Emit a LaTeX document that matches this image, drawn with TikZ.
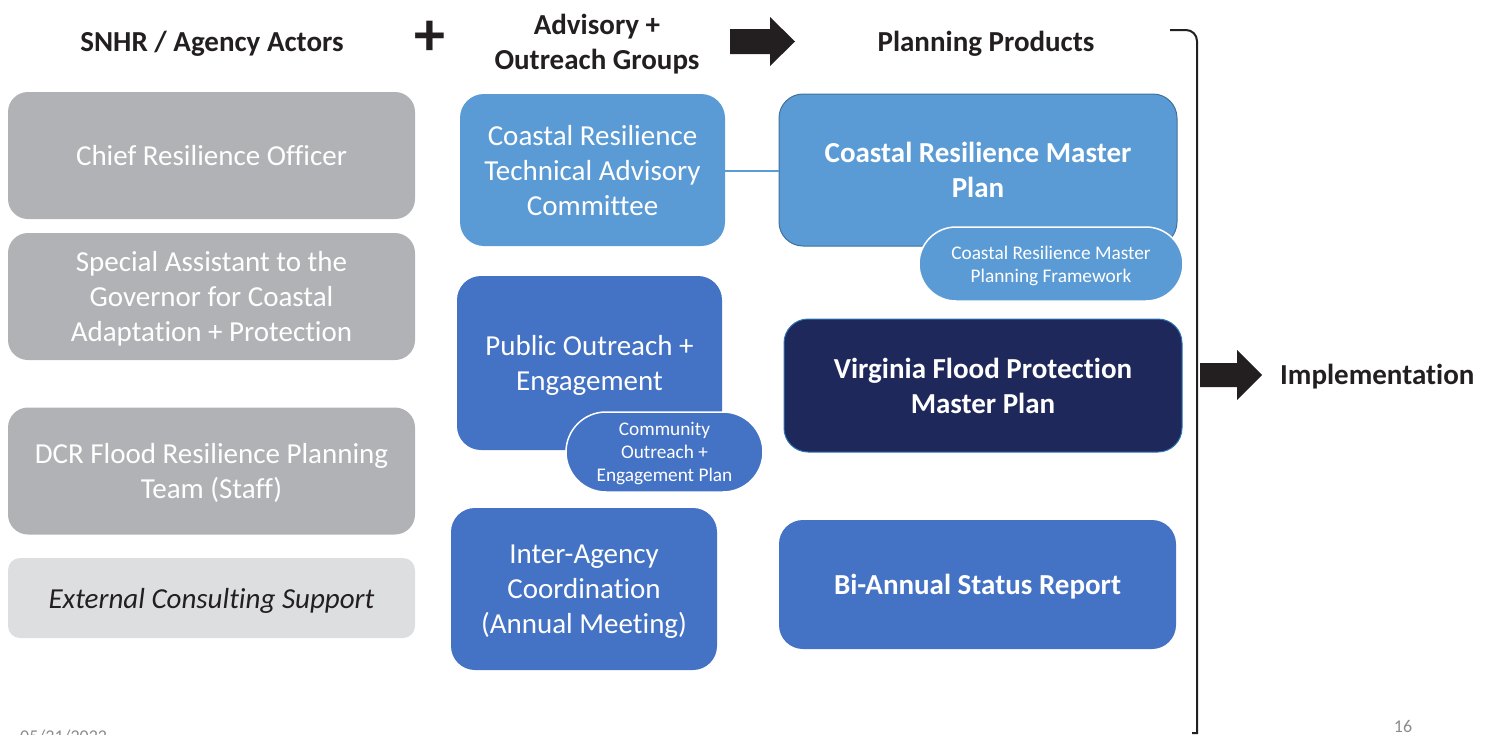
\documentclass[tikz,border=0pt]{standalone}
\usepackage{fontspec}
\setmainfont{Carlito}[Ligatures={NoCommon,NoRare}]
\definecolor{gboxc}{HTML}{B1B2B5}
\definecolor{lboxc}{HTML}{DDDEE0}
\definecolor{midblue}{HTML}{5B9BD5}
\definecolor{blueb}{HTML}{4472C4}
\definecolor{navy}{HTML}{1F285B}
\definecolor{edgeblue}{HTML}{41719C}
\definecolor{edgelight}{HTML}{2E75B6}
\definecolor{ink}{HTML}{231F20}
\definecolor{pgray}{HTML}{8C8C8C}
\tikzset{
  base/.style={inner sep=0pt, align=center, text=white, font=\fontsize{29}{35}\selectfont},
  gbox/.style={base, fill=gboxc, minimum width=407pt, minimum height=127pt, rounded corners=20pt, text depth=-1pt},
  lbox/.style={base, fill=lboxc, text=ink, minimum width=407pt, minimum height=80pt, rounded corners=12pt, font=\fontsize{29}{35}\selectfont\itshape, text depth=-1pt},
  mbox/.style={base, rounded corners=24pt, text depth=-4pt},
  bubble/.style={base, draw=white, line width=1.5pt, font=\fontsize{19.3}{23}\selectfont, text depth=-4pt},
  pbox/.style={base, rounded corners=24pt, font=\fontsize{29}{35}\selectfont\bfseries, text depth=-4pt},
  head/.style={inner sep=0pt, align=center, text=ink, font=\fontsize{29}{35}\selectfont\bfseries},
  blockarrow/.style={fill=ink},
}
\begin{document}
\begin{tikzpicture}[x=1pt,y=-1pt]
\useasboundingbox (0,0) rectangle (1489,734);
\begin{scope}
\clip (0,0) rectangle (1489,734);
% headers
\node[head] (h1) at (212,44) {SNHR / Agency Actors};
\node[head, font=\fontsize{62}{62}\selectfont\bfseries] (plus) at (430,38.5) {+};
\node[head] (h2) at (597,44) {Advisory +\\Outreach Groups};
\node[head] (h3) at (986,44) {Planning Products};
\fill[blockarrow] (730,29) -- (770,29) -- (770,17) -- (795,41.5) -- (770,66) -- (770,54) -- (730,54) -- cycle;
% left column
\node[gbox] (cro) at (211.5,155.5) {Chief Resilience Officer};
\node[gbox] (sa) at (211.5,296.5) {Special Assistant to the\\Governor for Coastal\\Adaptation + Protection};
\node[gbox] (dcr) at (211.5,471) {DCR Flood Resilience Planning\\Team (Staff)};
\node[lbox] (ecs) at (211.5,598) {External Consulting Support};
% middle column
\node[mbox, fill=midblue, minimum width=265pt, minimum height=152pt] (crtac) at (592.5,170) {Coastal Resilience\\Technical Advisory\\Committee};
\node[mbox, fill=blueb, minimum width=265pt, minimum height=174pt] (poe) at (589.5,363) {Public Outreach +\\Engagement};
\node[bubble, fill=blueb, minimum width=197pt, minimum height=80pt, rounded corners=40pt] (coep) at (664.5,452) {Community\\Outreach +\\Engagement Plan};
\node[mbox, fill=blueb, minimum width=266pt, minimum height=162pt] (iac) at (584,589) {Inter-Agency\\Coordination\\(Annual Meeting)};
% right column
\node[pbox, fill=midblue, draw=edgeblue, line width=1pt, minimum width=398pt, minimum height=152pt] (crmp) at (978,170) {Coastal Resilience Master\\Plan};
\node[bubble, fill=midblue, minimum width=264pt, minimum height=74pt, rounded corners=37pt] (crmpf) at (1051,264) {Coastal Resilience Master\\Planning Framework};
\node[pbox, fill=navy, draw=edgelight, line width=1pt, minimum width=398pt, minimum height=133pt] (vfpmp) at (983,385.5) {Virginia Flood Protection\\Master Plan};
\node[pbox, fill=blueb, minimum width=397pt, minimum height=129pt] (bar) at (977.5,584.5) {Bi-Annual Status Report};
% connector
\draw[midblue, line width=2.5pt] (crtac.east |- 0,171) -- (crmp.west |- 0,171);
% bracket
\draw[ink, line width=2pt] (1170,30) -- (1186,30) arc[start angle=90, end angle=0, radius=11pt] -- (1197,733) -- (1192,733);
\fill[blockarrow] (1200,363) -- (1237,363) -- (1237,350) -- (1262,375) -- (1237,400) -- (1237,387) -- (1200,387) -- cycle;
\node[head, anchor=west] (impl) at (1280,377) {Implementation};
% footer
\node[inner sep=0pt, anchor=base west, text=pgray, font=\fontsize{18}{22}\selectfont] (date) at (20,742) {05/31/2022};
\node[inner sep=0pt, anchor=base, text=pgray, font=\fontsize{18}{22}\selectfont] (pg) at (1403,732) {16};
\end{scope}
\end{tikzpicture}
\end{document}
